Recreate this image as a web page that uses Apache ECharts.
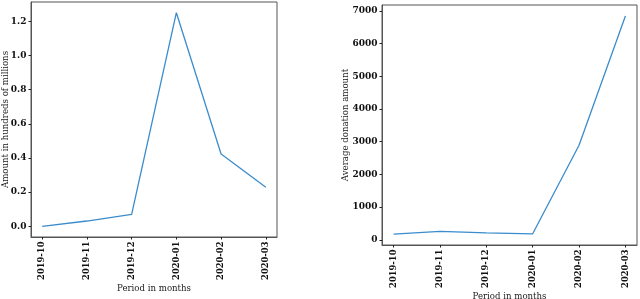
<!DOCTYPE html>
<html><head><meta charset="utf-8">
<script src="https://cdn.jsdelivr.net/npm/echarts@6/dist/echarts.min.js"></script>
<style>html,body{margin:0;padding:0;background:#fff}#c{width:640px;height:299px}</style>
</head><body><div id="c"></div>
<script>
const months = ['2019-10','2019-11','2019-12','2020-01','2020-02','2020-03'];
const amountHundredMillions = [0.0, 0.031, 0.07, 1.25, 0.423, 0.229];
const avgDonation = [174, 256, 214, 183, 2890, 6848];
const leftYTicks = [0, 0.2, 0.4, 0.6, 0.8, 1.0, 1.2];
const rightYTicks = [0, 1000, 2000, 3000, 4000, 5000, 6000, 7000];
const xTicks = [0, 1, 2, 3, 4, 5];

const FONT = 'DejaVu Serif';
const tickLabel = {fontFamily: FONT, fontWeight: 'bold', fontSize: 9, color: '#111'};
const nameStyle = {fontFamily: FONT, fontSize: 8.6, color: '#222'};

function pad(lo, hi){ const m=(hi-lo)*0.05; return [lo-m, hi+m]; }
const ly = pad(Math.min(...amountHundredMillions), Math.max(...amountHundredMillions));
const ry = pad(Math.min(...avgDonation), Math.max(...avgDonation));
const xr = pad(0, months.length-1);

function xAxis(gi, gap){
  return {type:'value', gridIndex:gi, min:xr[0], max:xr[1],
    name:'Period in months', nameLocation:'middle', nameGap:gap, nameMoveOverlap:false, nameTextStyle:nameStyle,
    axisLine:{show:true, onZero:false, lineStyle:{color:'#555', width:1}}, splitLine:{show:false},
    axisTick:{show:true, length:2.5, customValues:xTicks, lineStyle:{color:'#222'}},
    axisLabel:Object.assign({rotate:90, margin:4.5, customValues:xTicks, formatter:v=>months[Math.round(v)]}, tickLabel, {fontSize:8.4})};
}
function yAxis(gi, r, ticks, name, fmt, gap){
  return {type:'value', gridIndex:gi, min:r[0], max:r[1],
    name:name, nameLocation:'middle', nameGap:gap, nameMoveOverlap:false, nameTextStyle:nameStyle,
    axisLine:{show:true, onZero:false, lineStyle:{color:'#555', width:1}}, splitLine:{show:false},
    axisTick:{show:true, length:2.5, customValues:ticks, lineStyle:{color:'#222'}},
    axisLabel:Object.assign({margin:4.5, customValues:ticks, formatter:fmt}, tickLabel)};
}
const chart = echarts.init(document.getElementById('c'), null, {renderer:'canvas'});
chart.setOption({
  animation:false,
  grid:[
    {left:31, top:2, width:246, height:235, show:true, borderColor:'#555', borderWidth:1, outerBoundsMode:'none', containLabel:false},
    {left:382, top:5, width:255, height:240, show:true, borderColor:'#555', borderWidth:1, outerBoundsMode:'none', containLabel:false}
  ],
  xAxis:[xAxis(0, 47), xAxis(1, 47)],
  yAxis:[
    yAxis(0, ly, leftYTicks, 'Amount in hundreds of millions', v=>v.toFixed(1), 21),
    yAxis(1, ry, rightYTicks, 'Average donation amount', v=>String(Math.round(v)), 32)
  ],
  series:[
    {type:'line', xAxisIndex:0, yAxisIndex:0, showSymbol:false, lineStyle:{color:'#3a8ccc', width:1.3},
     data: amountHundredMillions.map((v,i)=>[i,v])},
    {type:'line', xAxisIndex:1, yAxisIndex:1, showSymbol:false, lineStyle:{color:'#3a8ccc', width:1.3},
     data: avgDonation.map((v,i)=>[i,v])}
  ]
});
</script></body></html>
